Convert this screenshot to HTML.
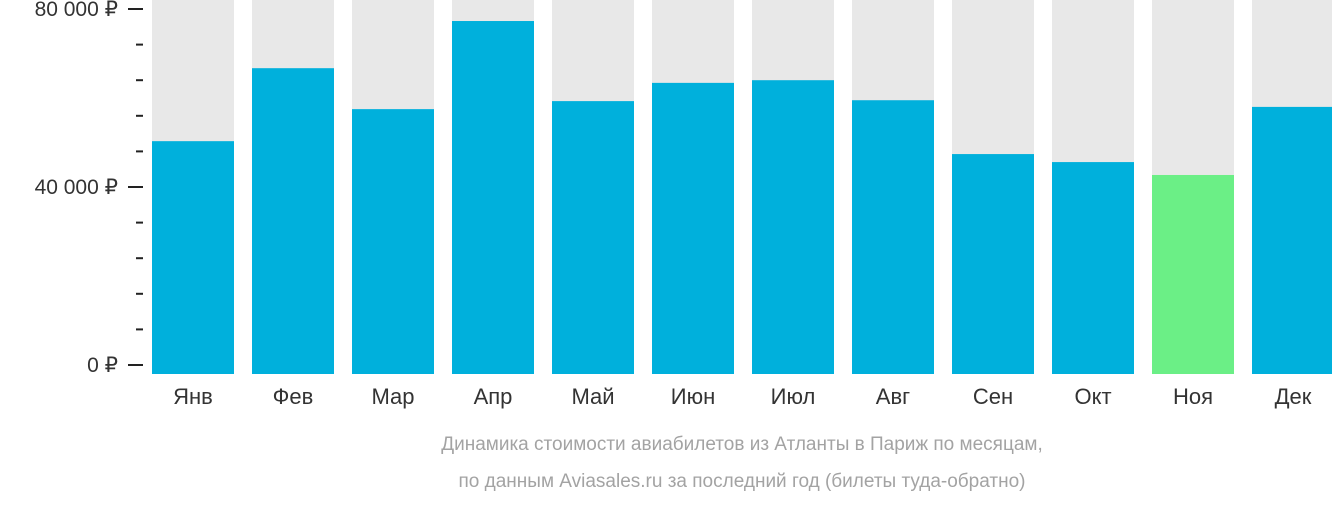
<!DOCTYPE html>
<html><head><meta charset="utf-8"><style>
body{margin:0;background:#fff;width:1332px;height:502px;overflow:hidden;font-family:"Liberation Sans","DejaVu Sans",sans-serif}
</style></head><body>
<svg width="1332" height="502">
<g id="axis"></g>
<g id="bars"></g>
<g id="xl"></g>
<text x="742" y="450" text-anchor="middle" font-size="19" fill="#a3a3a3">Динамика стоимости авиабилетов из Атланты в Париж по месяцам,</text>
<text x="742" y="487" text-anchor="middle" font-size="19" fill="#a3a3a3">по данным Aviasales.ru за последний год (билеты туда-обратно)</text>
</svg>
<script>
const months=["Янв","Фев","Мар","Апр","Май","Июн","Июл","Авг","Сен","Окт","Ноя","Дек"];
const prices=[50300,66700,57500,77300,59300,63400,64000,59500,47400,45600,42700,58000];
const tickValues=[0,40000,80000];
const tickLabels=["0 ₽","40 000 ₽","80 000 ₽"];
const minorStep=8000;
const NS="http://www.w3.org/2000/svg";
function y(v){return 365-v*356/80000;}
function x(i){return 152+i*100;}
function mk(t,a,p){const e=document.createElementNS(NS,t);for(const k in a)e.setAttribute(k,a[k]);p.appendChild(e);return e;}
const ax=document.getElementById('axis'),bs=document.getElementById('bars'),xl=document.getElementById('xl');
for(let v=0;v<=80000;v+=minorStep){const l=mk('line',{x1:136,x2:143,y1:y(v),y2:y(v),stroke:'#222','stroke-width':2},ax);

}
tickValues.forEach((v,i)=>{const l=mk('line',{x1:128,x2:143,y1:y(v),y2:y(v),stroke:'#222','stroke-width':2},ax);


const t=mk('text',{x:118,y:y(v)+7,'text-anchor':'end','font-size':21,fill:'#333'},ax);t.textContent=tickLabels[i];

});
const minV=Math.min(...prices);
prices.forEach((p,i)=>{
const g=mk('rect',{x:x(i),y:0,width:82,height:374,fill:'#e8e8e8'},bs);


const r=mk('rect',{x:x(i),y:y(p),width:82,height:374-y(p),fill:p===minV?'#6bef86':'#00b0dc'},bs);


const t=mk('text',{x:x(i)+41,y:404,'text-anchor':'middle','font-size':22,fill:'#333'},xl);t.textContent=months[i];

});
</script>
</body></html>
